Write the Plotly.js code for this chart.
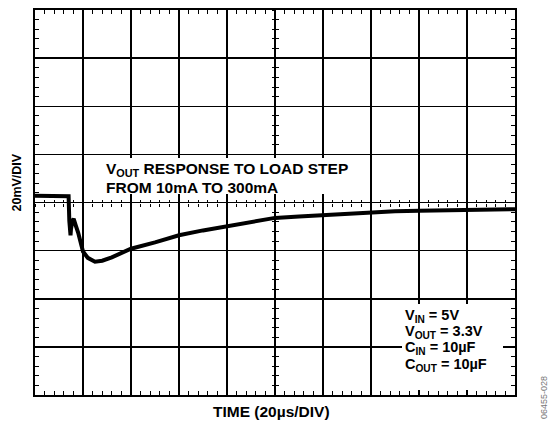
<!DOCTYPE html>
<html>
<head>
<meta charset="utf-8">
<script src="https://cdn.plot.ly/plotly-3.0.1.min.js"></script>
<style>
  html, body { margin: 0; padding: 0; background: #fff; }
  #chart { width: 548px; height: 421px; }
</style>
</head>
<body>
<div id="chart"></div>
<script>
// time in divisions (20 µs/DIV), output voltage in divisions (20 mV/DIV)
const timeDiv = [0, 0.3, 0.5, 0.70, 0.715, 0.74, 0.75, 0.78, 0.806, 0.85, 0.9, 1.0, 1.1, 1.25, 1.4, 1.6, 1.8, 2.0, 2.5, 3.0, 3.5, 4.0, 4.5, 5.0, 5.5, 6.0, 6.5, 7.0, 7.5, 8.0, 8.5, 9.0, 9.5, 10];
const voutDiv = [4.14, 4.13, 4.14, 4.13, 3.62, 3.32, 3.45, 3.62, 3.66, 3.52, 3.37, 2.98, 2.85, 2.77, 2.79, 2.86, 2.94, 3.04, 3.17, 3.32, 3.42, 3.50, 3.59, 3.68, 3.71, 3.74, 3.77, 3.80, 3.82, 3.83, 3.84, 3.84, 3.85, 3.86];

const titleText = ["V<sub>OUT</sub> RESPONSE TO LOAD STEP", "FROM 10mA TO 300mA"];
const condText = ["V<sub>IN</sub> = 5V", "V<sub>OUT</sub> = 3.3V", "C<sub>IN</sub> = 10µF", "C<sub>OUT</sub> = 10µF"];
const xTitle = "TIME (20µs/DIV)";
const yTitle = "20mV/DIV";
const figId = "06455-028";

const FONT = "Liberation Sans, Arial, Helvetica, sans-serif";
const bold = (size, color) => ({family: FONT, size: size, color: color || "#000", weight: "bold"});

const W = 548, H = 421;
const L = 35, R = 33, T = 10, B = 26;
const PW = W - L - R, PH = H - T - B;
const px = x => (x - L) / PW;          // pixel -> paper x
const py = y => (H - B - y) / PH;      // pixel -> paper y

const baseAxis = {
  range: [0, 10], dtick: 1, tick0: 0,
  showgrid: true, gridcolor: "#000", gridwidth: 1.5,
  zeroline: false, showticklabels: false,
  showline: true, linecolor: "#000", linewidth: 2, mirror: "allticks",
  ticks: "", fixedrange: true,
  minor: {dtick: 0.2, tick0: 0, ticks: "inside", ticklen: 4, tickcolor: "#000", tickwidth: 1, showgrid: false}
};
const crossAxis = (dir) => ({
  range: [0, 10], dtick: 0.2, tick0: 0, ticks: dir, ticklen: 3, tickcolor: "#000", tickwidth: 1,
  showgrid: false, zeroline: false, showticklabels: false, showline: false, fixedrange: true
});

const traces = [
  {x: timeDiv, y: voutDiv, mode: "lines", line: {color: "#000", width: 4}, hoverinfo: "skip", showlegend: false},
  {x: [], y: [], xaxis: "x2", yaxis: "y2", showlegend: false},
  {x: [], y: [], xaxis: "x3", yaxis: "y3", showlegend: false}
];

// white backgrounds behind the text blocks (hide grid lines, as in the scope shot)
const shapes = [
  {type: "rect", xref: "paper", yref: "paper", x0: px(102), x1: px(357), y0: py(158), y1: py(194),
   fillcolor: "#fff", line: {width: 0}, layer: "above"},
  {type: "rect", xref: "paper", yref: "paper", x0: px(402), x1: px(503), y0: py(304), y1: py(390),
   fillcolor: "#fff", line: {width: 0}, layer: "above"}
];

const annotations = [];
titleText.forEach((t, i) => annotations.push({
  text: t, xref: "paper", yref: "paper", x: px(104), y: py([169.5, 187][i]),
  xanchor: "left", yanchor: "middle", showarrow: false, font: bold(15.5), align: "left"
}));
condText.forEach((t, i) => annotations.push({
  text: t, xref: "paper", yref: "paper", x: px(404), y: py([315.5, 331.8, 348.2, 364.5][i]),
  xanchor: "left", yanchor: "middle", showarrow: false, font: bold(14.5), align: "left", borderpad: 0
}));
annotations.push({
  text: xTitle, xref: "paper", yref: "paper", x: px(271), y: py(412), xanchor: "center", yanchor: "middle",
  showarrow: false, font: bold(15.5)
});
annotations.push({
  text: yTitle, xref: "paper", yref: "paper", x: px(16), y: py(182.5), xanchor: "center", yanchor: "middle",
  showarrow: false, textangle: -90, font: bold(12.5)
});
annotations.push({
  text: figId, xref: "paper", yref: "paper", x: px(544), y: py(398), xanchor: "center", yanchor: "middle",
  showarrow: false, textangle: -90, font: {family: FONT, size: 9, color: "#777"}
});

const layout = {
  width: W, height: H,
  margin: {l: L, r: R, t: T, b: B, pad: 0},
  paper_bgcolor: "#fff", plot_bgcolor: "#fff",
  showlegend: false,
  xaxis: Object.assign({}, baseAxis),
  yaxis: Object.assign({}, baseAxis, {range: [0, 8]}),
  xaxis2: Object.assign(crossAxis("inside"), {overlaying: "x", anchor: "free", position: 0.5}),
  yaxis2: Object.assign(crossAxis("inside"), {range: [0, 8], overlaying: "y", anchor: "free", position: 0.5}),
  xaxis3: Object.assign(crossAxis("outside"), {overlaying: "x", anchor: "free", position: 0.5}),
  yaxis3: Object.assign(crossAxis("outside"), {range: [0, 8], overlaying: "y", anchor: "free", position: 0.5}),
  shapes: shapes,
  annotations: annotations
};

Plotly.newPlot("chart", traces, layout, {staticPlot: true, displayModeBar: false});
</script>
</body>
</html>
